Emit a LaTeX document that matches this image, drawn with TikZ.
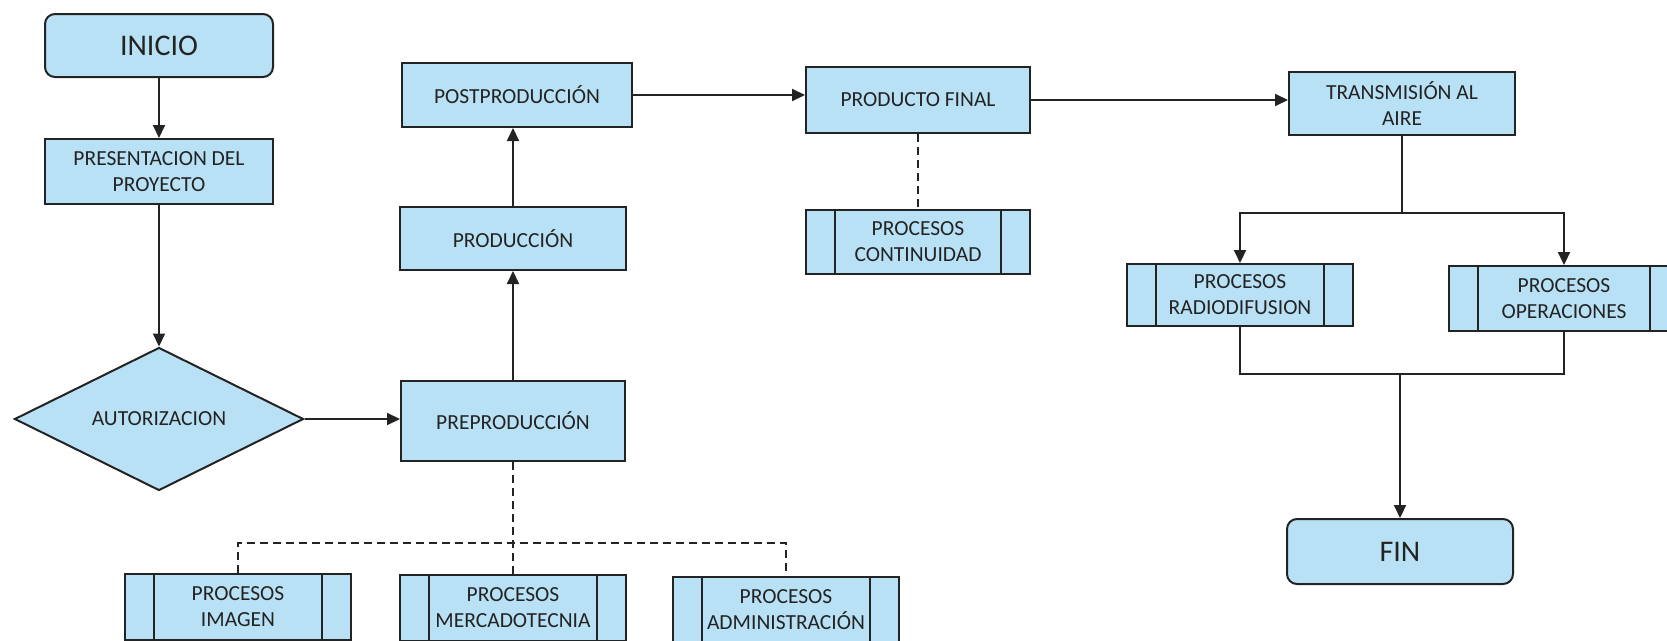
\documentclass[tikz,border=0pt]{standalone}
\usepackage{fontspec}
\setmainfont{Carlito}
\usetikzlibrary{shapes.geometric,arrows.meta}
\definecolor{boxblue}{RGB}{185,225,245}
\definecolor{ink}{RGB}{35,35,35}
\tikzset{
  base/.style={draw=ink, line width=2pt, fill=boxblue, text=ink, inner sep=0pt,
     align=center, font=\fontsize{21.5}{26}\selectfont},
  procbox/.style={base, rectangle, minimum width=#1, minimum height=64pt},
  procbox/.default=226pt,
  termbox/.style={base, rectangle, rounded corners=10pt, minimum width=228pt, minimum height=63pt,
     font=\fontsize{30}{35}\selectfont},
  decbox/.style={base, diamond, aspect=2.02, minimum width=289pt, minimum height=143pt},
  subproc/.style={base, rectangle, minimum width=226pt, minimum height=64pt,
     path picture={
       \draw[draw=ink, line width=1.4pt]
         ([xshift=29pt]path picture bounding box.north west) -- ([xshift=29pt]path picture bounding box.south west);
       \draw[draw=ink, line width=1.4pt]
         ([xshift=-29pt]path picture bounding box.north east) -- ([xshift=-29pt]path picture bounding box.south east);
     }},
  flow/.style={draw=ink, line width=2pt, -{Triangle[length=13pt,width=12pt]}},
  link/.style={draw=ink, line width=2pt},
  dlink/.style={draw=ink, line width=2pt, dash pattern=on 8pt off 5pt},
}
\begin{document}
\begin{tikzpicture}[x=1pt,y=-1pt]
\useasboundingbox (0,0) rectangle (1667,640);
\fill[white] (0,0) rectangle (1667,640);
\clip (0,0) rectangle (1667,640);

% left column
\node[termbox] (inicio) at (159,45.5) {INICIO};
\node[procbox=228pt, minimum height=65pt] (pres) at (159,171.5) {PRESENTACION DEL\\PROYECTO};
\node[decbox] (autor) at (159,419) {AUTORIZACION};

% middle column
\node[procbox=224pt, minimum height=80pt] (prep) at (513,421) {PREPRODUCCIÓN};
\node[procbox, minimum height=63pt] (prod) at (513,238.5) {PRODUCCIÓN};
\node[procbox=230pt] (post) at (517,95) {POSTPRODUCCIÓN};

% product final
\node[procbox=224pt, minimum height=66pt] (prodfin) at (918,100) {PRODUCTO FINAL};
\node[subproc, minimum width=224pt] (cont) at (918,242) {PROCESOS\\CONTINUIDAD};

% transmission
\node[procbox, minimum height=63pt] (trans) at (1402,103.5) {TRANSMISIÓN AL\\AIRE};
\node[subproc, minimum height=62pt] (radio) at (1240,295) {PROCESOS\\RADIODIFUSION};
\node[subproc, minimum width=230pt, minimum height=65pt] (oper) at (1564,298.5) {PROCESOS\\OPERACIONES};
\node[termbox, minimum width=226pt, minimum height=65pt] (fin) at (1400,551.5) {FIN};

% bottom sub-processes
\node[subproc, minimum height=66pt] (img) at (238,607) {PROCESOS\\IMAGEN};
\node[subproc, minimum height=66pt] (merc) at (513,608) {PROCESOS\\MERCADOTECNIA};
\node[subproc, minimum height=66pt] (admin) at (786,610) {PROCESOS\\ADMINISTRACIÓN};

% connectors
\draw[flow] (inicio.south) -- (pres.north);
\draw[flow] (pres.south) -- (autor.north);
\draw[flow] (autor.east) -- (autor.east -| prep.west);
\draw[flow] (prep.north) -- (prod.south);
\draw[flow] (prod.north) -- (prod.north |- post.south);
\draw[flow] (post.east) -- (post.east -| prodfin.west);
\draw[flow] (prodfin.east) -- (prodfin.east -| trans.west);
\draw[dlink] (prodfin.south) -- (cont.north);

\coordinate (split) at (1402,213);
\draw[link] (trans.south) -- (split);
\draw[flow] (split) -| (radio.north);
\draw[flow] (split) -| (oper.north);

\coordinate (join) at (1400,374);
\draw[link] (radio.south) |- (join);
\draw[link] (oper.south) |- (join);
\draw[flow] (join) -- (fin.north);

\coordinate (bus) at (513,543);
\draw[dlink] (prep.south) -- (merc.north);
\draw[dlink] (img.north) |- (bus) -| (admin.north);
\end{tikzpicture}
\end{document}
